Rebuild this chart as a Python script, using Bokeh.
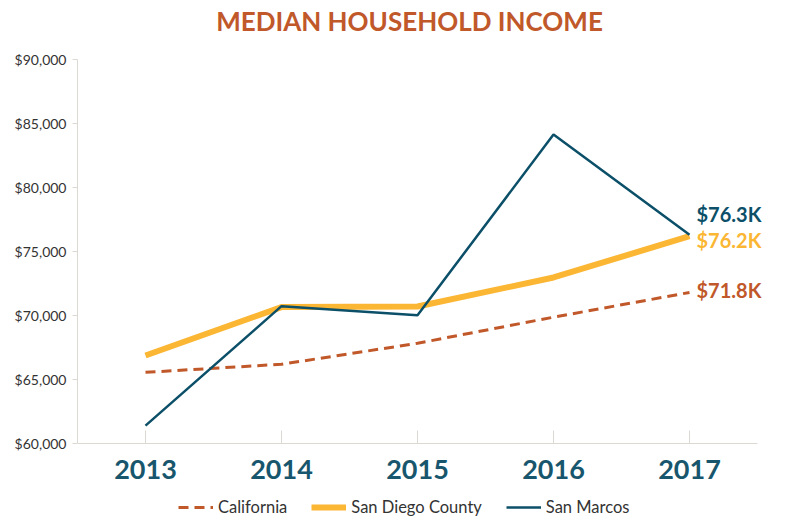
from bokeh.plotting import figure
from bokeh.models import (Legend, LegendItem, FixedTicker, NumeralTickFormatter,
                          Label, Range1d)
from bokeh.embed import file_html
from bokeh.resources import INLINE

years = [2013, 2014, 2015, 2016, 2017]
year_labels = ["2013", "2014", "2015", "2016", "2017"]
california = [65560, 66190, 67830, 69870, 71800]
san_diego = [66875, 70660, 70700, 72970, 76200]
san_marcos = [61400, 70730, 70020, 84140, 76300]
y_ticks = [60000, 65000, 70000, 75000, 80000, 85000, 90000]
series_names = ["California", "San Diego County", "San Marcos"]
title_text = "MEDIAN HOUSEHOLD INCOME"

C_CAL = "#C0582A"
C_SD = "#FBB634"
C_SM = "#0B4F68"
FONT = "Lato"

# layout (pixels): canvas and where the value axis should sit
W, H = 785, 519
LEFT = 77
AX_TOP, AX_BOTTOM = 59, 443       # pixel rows of 90,000 and 60,000
AX_RIGHT = 757                    # pixel column where the x axis ends
Y0, Y1 = y_ticks[0], y_ticks[-1]
X0, X1 = years[0] - 0.5, years[-1] + 0.5
upp_y = (Y1 - Y0) / (AX_BOTTOM - AX_TOP)
upp_x = (X1 - X0) / (AX_RIGHT - LEFT)

p = figure(width=W, height=H, output_backend="svg", toolbar_location=None,
           x_range=Range1d(X0, X0 + (W - LEFT) * upp_x),
           y_range=Range1d(Y0 - (H - AX_BOTTOM) * upp_y, Y1 + AX_TOP * upp_y),
           min_border_left=LEFT, min_border_right=0, min_border_top=0,
           min_border_bottom=0)
p.outline_line_color = None
p.xgrid.visible = False
p.ygrid.visible = False

r_cal = p.line(years, california, line_color=C_CAL, line_width=3, line_dash="10 6")
r_sd = p.line(years, san_diego, line_color=C_SD, line_width=6)
r_sm = p.line(years, san_marcos, line_color=C_SM, line_width=2.5)

# title
p.add_layout(Label(x=(X0 + X1) / 2, y=Y1, x_offset=-8, y_offset=39, text=title_text,
                   text_font=FONT, text_font_size="26px", text_font_style="bold",
                   text_color=C_CAL, text_align="center", text_baseline="middle"))

# axes
xa = p.xaxis[0]
xa.fixed_location = Y0
xa.bounds = (X0, X1)
xa.ticker = FixedTicker(ticks=years)
xa.major_label_overrides = {y: l for y, l in zip(years, year_labels)}
xa.axis_line_color = "#dcd9d3"
xa.major_tick_line_color = "#dcd9d3"
xa.major_tick_in = 13
xa.major_tick_out = 0
xa.minor_tick_line_color = None
xa.major_label_text_font = FONT
xa.major_label_text_font_size = "27px"
xa.major_label_text_font_style = "bold"
xa.major_label_text_color = "#17566d"
xa.major_label_standoff = 16

ya = p.yaxis[0]
ya.bounds = (Y0, Y1)
ya.ticker = FixedTicker(ticks=y_ticks)
ya.formatter = NumeralTickFormatter(format="$0,0")
ya.axis_line_color = "#dcd9d3"
ya.major_tick_line_color = "#dcd9d3"
ya.major_tick_in = 0
ya.major_tick_out = 5
ya.minor_tick_line_color = None
ya.major_label_text_font = FONT
ya.major_label_text_font_size = "14px"
ya.major_label_text_color = "#333333"
ya.major_label_standoff = 6

# end labels
for val, col, yoff in [(san_marcos[-1], C_SM, 21), (san_diego[-1], C_SD, -4), (california[-1], C_CAL, 2)]:
    p.add_layout(Label(x=years[-1], y=val, x_offset=7, y_offset=yoff,
                       text=f"${val/1000:.1f}K", text_color=col, text_font=FONT,
                       text_font_size="20px", text_font_style="bold",
                       text_baseline="middle", text_align="left"))

legend = Legend(items=[LegendItem(label=series_names[0], renderers=[r_cal]),
                       LegendItem(label=series_names[1], renderers=[r_sd]),
                       LegendItem(label=series_names[2], renderers=[r_sm])],
                orientation="horizontal", location=(101, 2),
                label_text_font=FONT, label_text_font_size="16.5px",
                label_text_color="#333333", glyph_width=35, spacing=24,
                label_standoff=5, border_line_color=None, padding=2, margin=0,
                background_fill_alpha=0)
p.add_layout(legend, "center")

open("out.html", "w").write(file_html(p, INLINE))
